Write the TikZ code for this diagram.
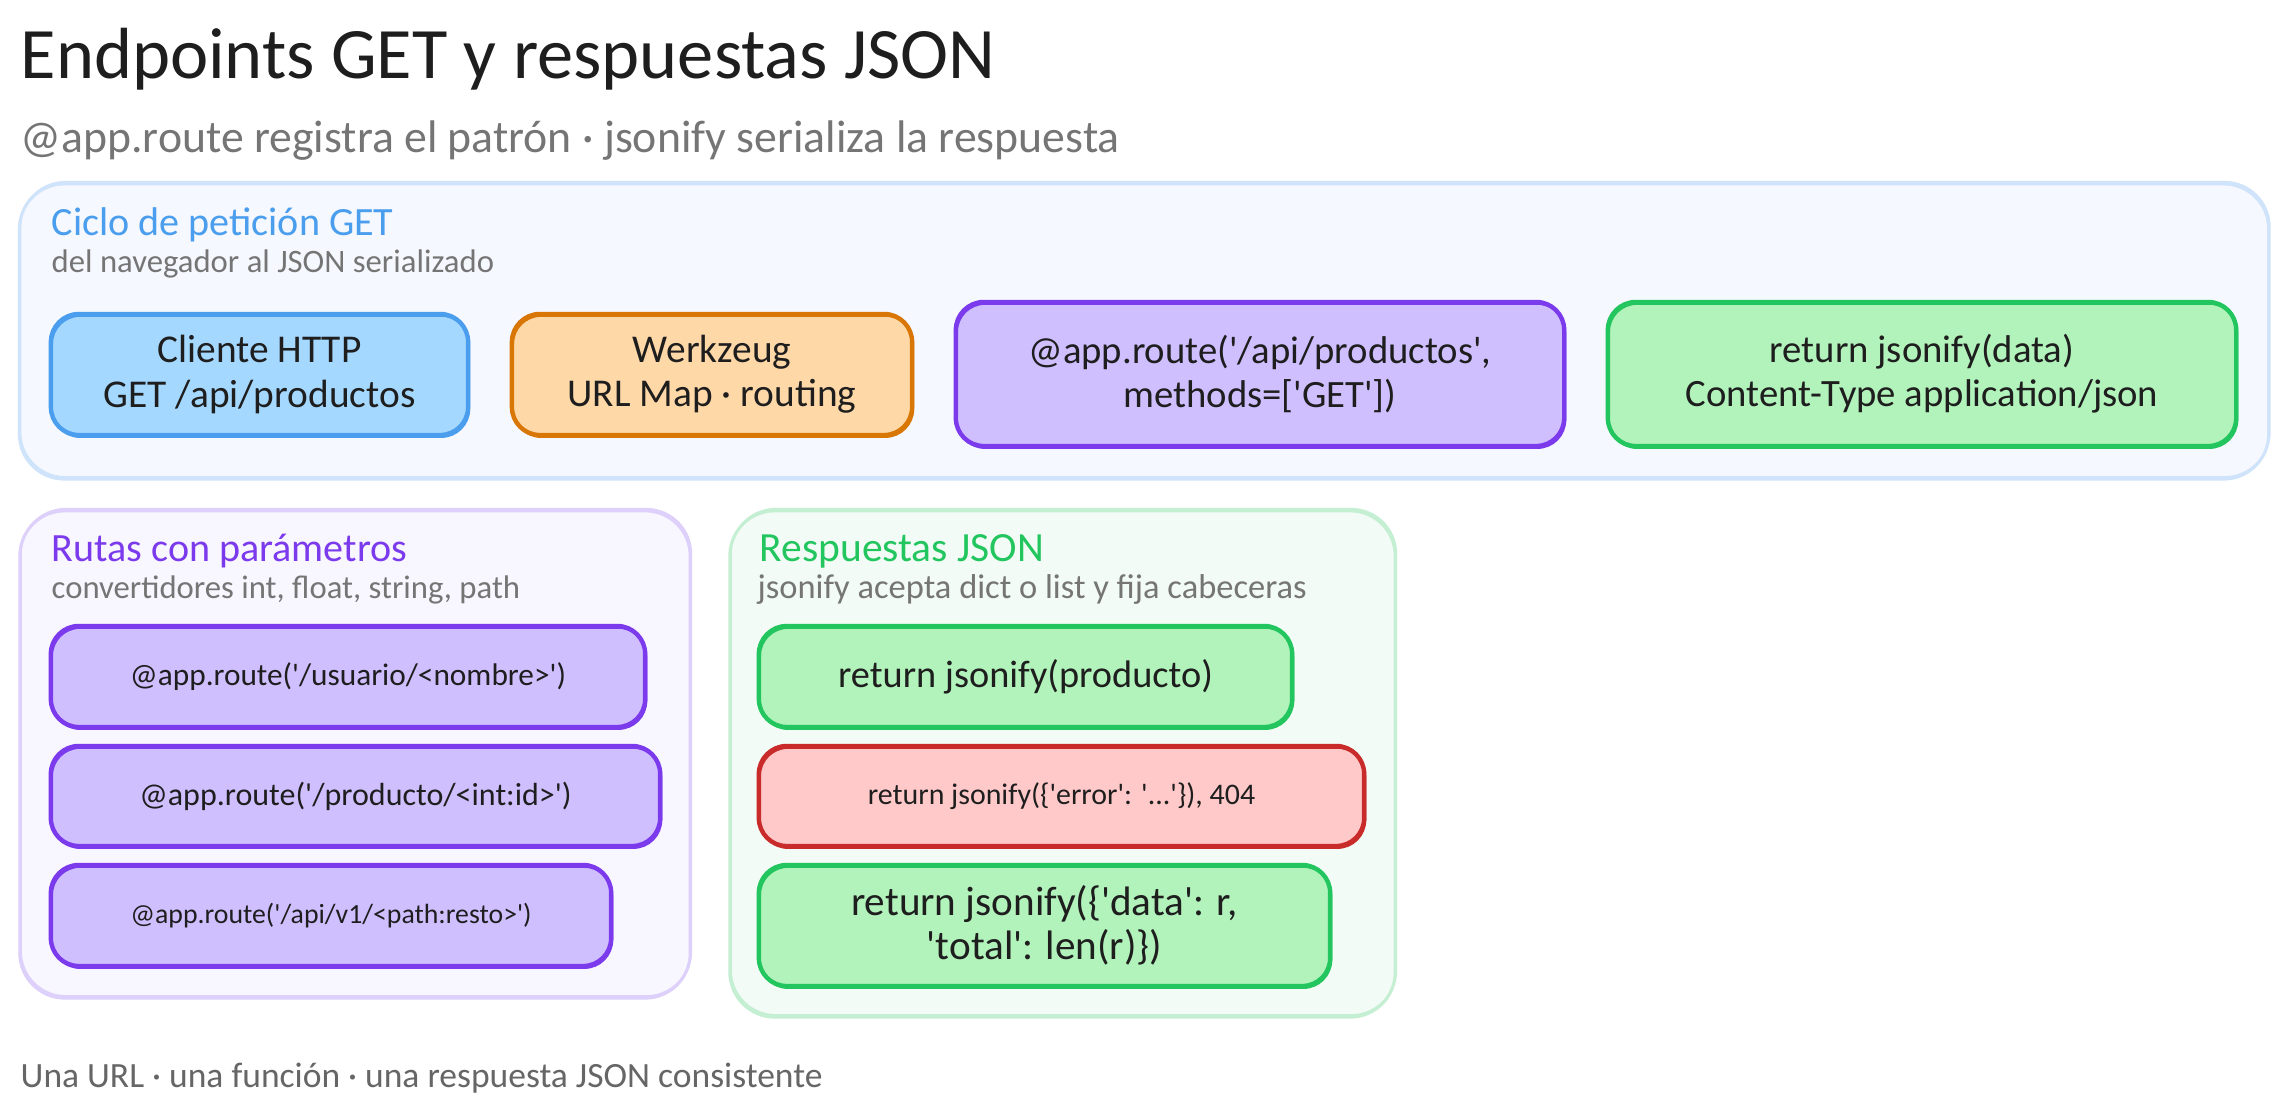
\documentclass[tikz,border=0pt]{standalone}
\usepackage{fontspec}
\newfontfamily\handfont{Carlito}
\usetikzlibrary{positioning}
\definecolor{inkblack}{HTML}{1E1E1E}
\definecolor{inkgray}{HTML}{757575}
\definecolor{footgray}{HTML}{666666}
\definecolor{blueline}{HTML}{4A9EED}
\definecolor{bluefill}{HTML}{A5D8FF}
\definecolor{orangeline}{HTML}{D97706}
\definecolor{orangefill}{HTML}{FFD8A8}
\definecolor{purpleline}{HTML}{7C3AED}
\definecolor{purplefill}{HTML}{D0BFFF}
\definecolor{greenline}{HTML}{22C55E}
\definecolor{greenfill}{HTML}{B2F2BB}
\definecolor{redline}{HTML}{C92A2A}
\definecolor{redfill}{HTML}{FFC9C9}
\definecolor{bluepanel}{HTML}{F5F8FE}
\definecolor{blueedge}{HTML}{CFE3FA}
\definecolor{purplepanel}{HTML}{F8F6FF}
\definecolor{purpleedge}{HTML}{DDD0FA}
\definecolor{greenpanel}{HTML}{F2FBF5}
\definecolor{greenedge}{HTML}{C5EFD3}
\newcommand{\handsize}[1]{\handfont\fontsize{#1}{12.6}\selectfont}
\tikzset{
  panel/.style={rectangle,rounded corners=.45cm,line width=.3mm,inner sep=0pt,
    postaction={draw,line width=.2mm,transform canvas={xshift=.1mm,yshift=.2mm}}},
  caja/.style={rectangle,rounded corners=.28cm,line width=1.25pt,inner sep=0pt,align=center,
    text=inkblack,font=\handsize{11.2},
    postaction={draw,line width=.5pt,transform canvas={xshift=.12mm,yshift=-.2mm}}},
  bluebox/.style={caja,fill=bluefill,draw=blueline},
  orangebox/.style={caja,fill=orangefill,draw=orangeline},
  purplebox/.style={caja,fill=purplefill,draw=purpleline},
  greenbox/.style={caja,fill=greenfill,draw=greenline},
  redbox/.style={caja,fill=redfill,draw=redline},
  maintitle/.style={anchor=base west,inner sep=0pt,text=inkblack,font=\handsize{20.6}},
  subtitle/.style={anchor=base west,inner sep=0pt,text=inkgray,font=\handsize{13}},
  paneltitle/.style={anchor=base west,inner sep=0pt,font=\handsize{11.4}},
  panelnote/.style={anchor=base west,inner sep=0pt,text=inkgray,font=\handsize{9.3}},
}
\begin{document}
\begin{tikzpicture}[x=.01cm,y=-.01cm]
\useasboundingbox[fill=white] (0,0) rectangle (2288,1115);
% cabecera
\node[maintitle] (titulo) at (20,78) {Endpoints GET y respuestas JSON};
\node[subtitle] (subtitulo) at (20,152) {@app.route registra el patrón · jsonify serializa la respuesta};
% ciclo de peticion
\node[panel,fill=bluepanel,draw=blueedge,minimum width=22.48cm,minimum height=2.95cm] (ciclo) at (1144,331.5) {};
\node[paneltitle,text=blueline] (ciclotit) at (51,235) {Ciclo de petición GET};
\node[panelnote] (ciclonota) at (51,272) {del navegador al JSON serializado};
\node[bluebox,minimum width=4.17cm,minimum height=1.21cm] (cliente) at (259.5,374.5) {Cliente HTTP\\GET /api/productos};
\node[orangebox,minimum width=4cm,minimum height=1.21cm] (werkzeug) at (712,374.5) {Werkzeug\\URL Map · routing};
\node[purplebox,font=\handsize{11},minimum width=6.08cm,minimum height=1.44cm] (ruta) at (1260,374) {@app.route('/api/productos',\\methods=['GET'])};
\node[greenbox,font=\handsize{11},minimum width=6.28cm,minimum height=1.44cm] (retorno) at (1922,374) {return jsonify(data)\\Content-Type application/json};
% rutas con parametros
\node[panel,fill=purplepanel,draw=purpleedge,minimum width=6.7cm,minimum height=4.87cm] (rutas) at (355,754.5) {};
\node[paneltitle,text=purpleline] (rutastit) at (51,561) {Rutas con parámetros};
\node[panelnote] (rutasnota) at (51,598) {convertidores int, float, string, path};
\node[purplebox,font=\handsize{8.9},minimum width=5.94cm,minimum height=1.01cm] (usuario) at (348,676.5) {@app.route('/usuario/<nombre>')};
\node[purplebox,font=\handsize{9.1},minimum width=6.09cm,minimum height=1cm] (producto) at (355.5,796) {@app.route('/producto/<int:id>')};
\node[purplebox,font=\handsize{7.9},minimum width=5.6cm,minimum height=1.01cm] (resto) at (331,915.5) {@app.route('/api/v1/<path:resto>')};
% respuestas json
\node[panel,fill=greenpanel,draw=greenedge,minimum width=6.65cm,minimum height=5.06cm] (respuestas) at (1062.5,764) {};
\node[paneltitle,text=greenline,font=\handsize{11.8}] (respuestastit) at (759,561) {Respuestas JSON};
\node[panelnote,font=\handsize{9.8}] (respuestasnota) at (757,598) {jsonify acepta dict o list y fija cabeceras};
\node[greenbox,font=\handsize{10.9},minimum width=5.33cm,minimum height=1.01cm] (prod) at (1025.5,676.5) {return jsonify(producto)};
\node[redbox,font=\handsize{8.5},minimum width=6.05cm,minimum height=1cm] (error) at (1061.5,796) {return jsonify(\{'error': '...'\}), 404};
\node[greenbox,font=\handsize{11.7},minimum width=5.71cm,minimum height=1.21cm] (lista) at (1044.5,925.5) {return jsonify(\{'data': r,\\'total': len(r)\})};
% pie
\node[panelnote,text=footgray,font=\handsize{10.1}] (pie) at (20,1087) {Una URL · una función · una respuesta JSON consistente};
\end{tikzpicture}
\end{document}
